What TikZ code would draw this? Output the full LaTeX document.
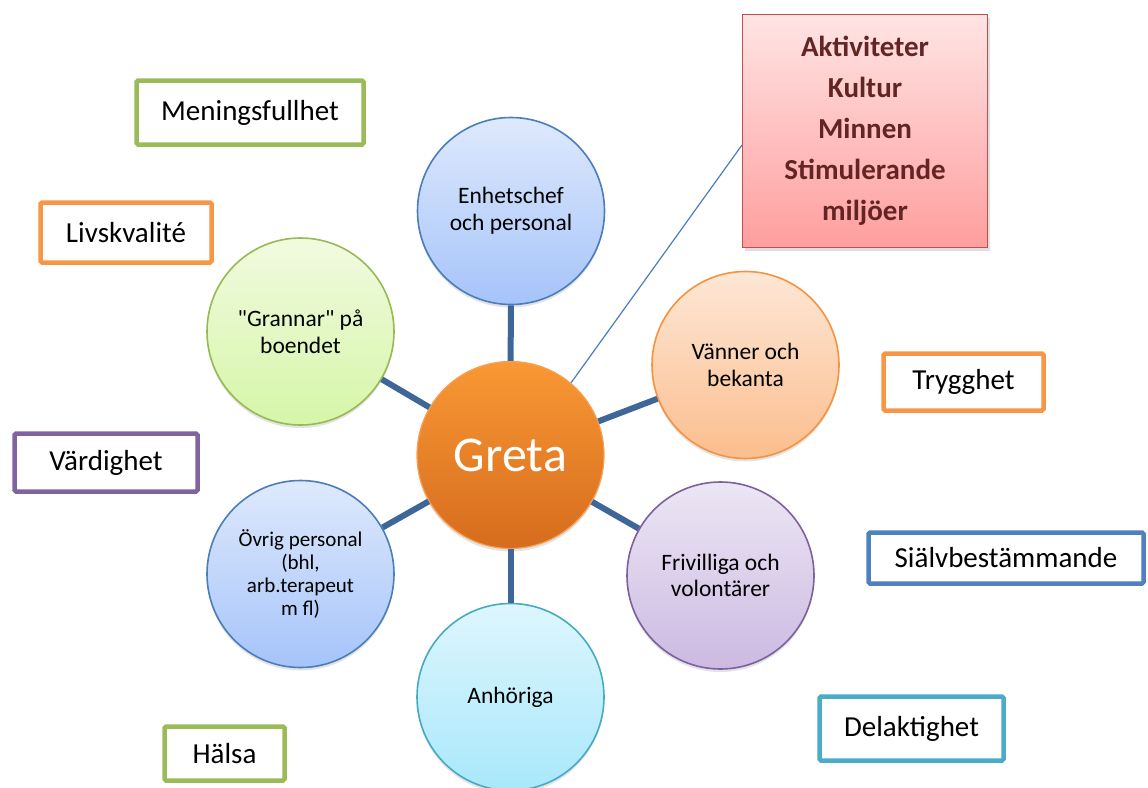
\documentclass[tikz,border=0pt]{standalone}
\usepackage{fontspec}
\setmainfont{Carlito}[Ligatures=TeXOff]
\usetikzlibrary{shadows}
\definecolor{spokec}{RGB}{62,102,152}
\definecolor{thinc}{RGB}{74,126,187}
\definecolor{tgreen}{RGB}{155,187,89}
\definecolor{torange}{RGB}{247,150,70}
\definecolor{tpurple}{RGB}{128,100,162}
\definecolor{tblue}{RGB}{79,129,189}
\definecolor{tteal}{RGB}{75,172,198}
\definecolor{bluetop}{RGB}{222,233,252}
\definecolor{bluebot}{RGB}{166,196,250}
\definecolor{bluedraw}{RGB}{74,126,187}
\definecolor{greentop}{RGB}{241,250,224}
\definecolor{greenbot}{RGB}{214,246,168}
\definecolor{greendraw}{RGB}{152,185,84}
\definecolor{orangetop}{RGB}{253,231,214}
\definecolor{orangebot}{RGB}{251,190,142}
\definecolor{orangedraw}{RGB}{246,146,64}
\definecolor{purpletop}{RGB}{236,230,244}
\definecolor{purplebot}{RGB}{204,186,226}
\definecolor{purpledraw}{RGB}{125,96,160}
\definecolor{tealtop}{RGB}{222,246,253}
\definecolor{tealbot}{RGB}{168,232,251}
\definecolor{tealdraw}{RGB}{70,170,197}
\definecolor{gretatop}{RGB}{249,152,52}
\definecolor{gretabot}{RGB}{214,108,30}
\definecolor{gretadraw}{RGB}{248,160,80}
\definecolor{pinktop}{RGB}{255,228,228}
\definecolor{pinkbot}{RGB}{255,158,158}
\definecolor{pinkdraw}{RGB}{192,80,77}
\definecolor{maroon}{RGB}{99,37,35}
\begin{document}
\begin{tikzpicture}[x=1pt,y=-1pt,
  bubble/.style={circle, minimum size=187pt, inner sep=0pt, line width=1.6pt,
    align=center, font=\fontsize{23.5}{26.7}\selectfont,
    drop shadow={opacity=0.22, shadow xshift=0pt, shadow yshift=-3pt}},
  bluebub/.style={bubble, draw=bluedraw, top color=bluetop, bottom color=bluebot},
  tag/.style={draw, rectangle, rounded corners=1.5pt, line width=4.5pt, fill=white,
    inner sep=0pt, font=\fontsize{29}{33}\selectfont},
  spoke/.style={draw=spokec, line width=6pt},
  thinline/.style={draw=thinc, line width=1.2pt}
]
\useasboundingbox (0,0) rectangle (1148,787);
\clip (0,0) rectangle (1148,787);

% outer tags
\node[tag, draw=tgreen, minimum width=227pt, minimum height=64pt] (mening) at (250,112.5) {Meningsfullhet};
\node[tag, draw=torange, minimum width=171pt, minimum height=60pt] (livs) at (126,232.5) {Livskvalité};
\node[tag, draw=torange, minimum width=160pt, minimum height=57pt] (trygg) at (963.5,382) {Trygghet};
\node[tag, draw=tpurple, minimum width=183pt, minimum height=58pt] (vard) at (106,462.5) {Värdighet};
\node[tag, draw=tblue, minimum width=275pt, minimum height=51pt] (sjalv) at (1006,558) {Siälvbestämmande};
\node[tag, draw=tteal, minimum width=184pt, minimum height=64pt] (delak) at (911.5,728.5) {Delaktighet};
\node[tag, draw=tgreen, minimum width=120pt, minimum height=54pt] (halsa) at (224.5,753.5) {Hälsa};

% activity box
\node[draw=pinkdraw, line width=1.5pt, top color=pinktop, bottom color=pinkbot,
  minimum width=245pt, minimum height=233pt, inner sep=0pt, align=center,
  text=maroon, font=\fontsize{29}{41}\selectfont\bfseries,
  drop shadow={opacity=0.25, shadow xshift=2pt, shadow yshift=-3pt}] (akt) at (865,131)
  {Aktiviteter\\Kultur\\Minnen\\Stimulerande\\miljöer};

% circles
\node[bluebub] (enhet) at (511,211) {Enhetschef\\och personal};
\node[bubble, draw=greendraw, top color=greentop, bottom color=greenbot] (grannar) at (300.5,331.5) {"Grannar" på\\boendet};
\node[bubble, draw=orangedraw, top color=orangetop, bottom color=orangebot] (vanner) at (745.5,365) {Vänner och\\bekanta};
\node[bubble, draw=purpledraw, top color=purpletop, bottom color=purplebot] (friv) at (720.5,575.5) {Frivilliga och\\volontärer};
\node[bluebub, font=\fontsize{21}{23.3}\selectfont] (ovrig) at (300.5,574) {Övrig personal\\(bhl,\\arb.terapeut\\m fl)};
\node[bubble, draw=tealdraw, top color=tealtop, bottom color=tealbot] (anh) at (510.5,697) {Anhöriga};
\node[bubble, draw=gretadraw, line width=1.2pt, top color=gretatop, bottom color=gretabot,
  text=white, font=\fontsize{50}{60}\selectfont] (greta) at (510.5,455) {Greta};

% connectors
\draw[spoke] (greta) -- (enhet);
\draw[spoke] (greta) -- (grannar);
\draw[spoke] (greta) -- (vanner);
\draw[spoke] (greta) -- (friv);
\draw[spoke] (greta) -- (ovrig);
\draw[spoke] (greta) -- (anh);
\coordinate (akttip) at (742,145);
\draw[thinline] (greta.50) -- (akttip);
\end{tikzpicture}
\end{document}
